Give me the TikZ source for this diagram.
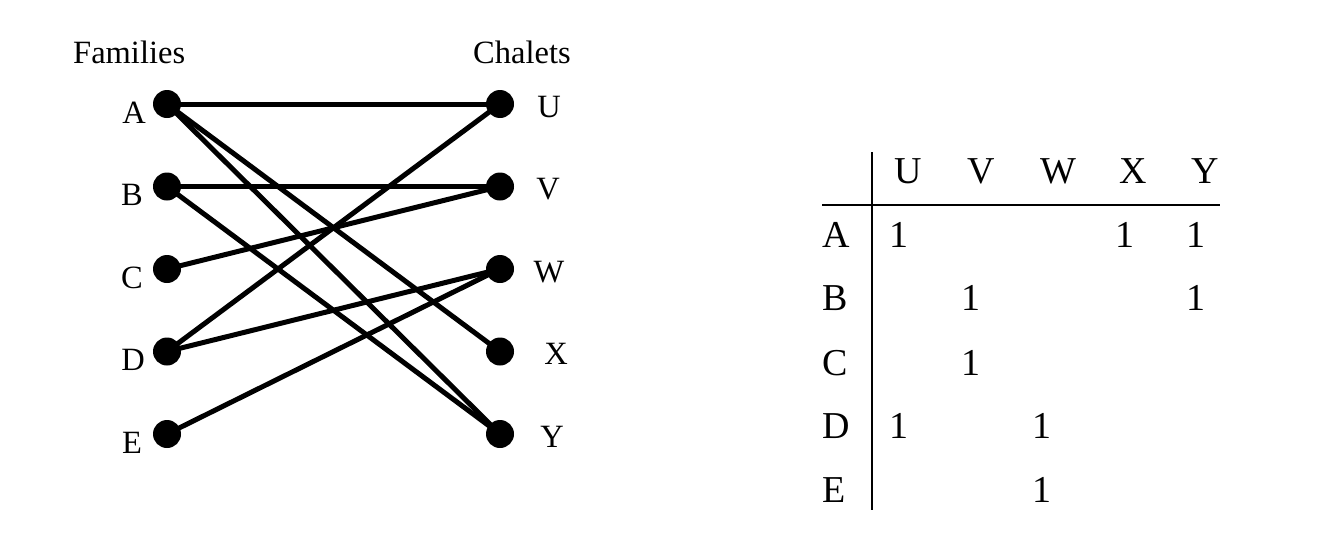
\documentclass[tikz,border=0pt]{standalone}
\usepackage{fontspec}
\setmainfont{Liberation Serif}
\begin{document}
\begin{tikzpicture}[x=1pt,y=-1pt,
  dot/.style={circle,fill=black,inner sep=0pt,minimum size=28pt},
  edge/.style={line width=5pt},
  glab/.style={inner sep=0pt,anchor=base,font=\fontsize{32.5}{38}\selectfont},
  tlab/.style={inner sep=0pt,anchor=base,font=\fontsize{38}{44}\selectfont},
  rule/.style={line width=2pt}]
\useasboundingbox (0,0) rectangle (1334,557);
% titles
\node[glab,anchor=base west] (fam) at (73,63) {Families};
\node[glab,anchor=base west] (cha) at (473,63) {Chalets};
% vertices
\foreach \n/\y in {A/104,B/186.5,C/269,D/351.5,E/434}{
  \coordinate (\n) at (167,\y);
}
\foreach \n/\y in {U/104,V/186.5,W/269,X/351.5,Y/434}{
  \coordinate (\n) at (500,\y);
}
% edges
\draw[edge] (A) -- (U);
\draw[edge] (A) -- (X);
\draw[edge] (A) -- (Y);
\draw[edge] (B) -- (V);
\draw[edge] (B) -- (Y);
\draw[edge] (C) -- (V);
\draw[edge] (D) -- (U);
\draw[edge] (D) -- (W);
\draw[edge] (E) -- (W);
% dots
\foreach \n in {A,B,C,D,E,U,V,W,X,Y}{
  \node[dot] (d\n) at (\n) {};
}
% labels
\node[glab] (lA) at (134,123) {A};
\node[glab] (lB) at (132,205.5) {B};
\node[glab] (lC) at (132,288) {C};
\node[glab] (lD) at (133,370.5) {D};
\node[glab] (lE) at (132,453) {E};
\node[glab] (lU) at (549,117) {U};
\node[glab] (lV) at (548,199.5) {V};
\node[glab] (lW) at (549,282) {W};
\node[glab] (lX) at (556,364.5) {X};
\node[glab] (lY) at (552,447) {Y};
% table
\coordinate (vt) at (872,152);
\coordinate (vb) at (872,510);
\coordinate (hl) at (822,205);
\coordinate (hr) at (1220,205);
\draw[rule] (vt) -- (vb);
\draw[rule] (hl) -- (hr);
\node[tlab] (hU) at (908,183) {U};
\node[tlab] (hV) at (981,183) {V};
\node[tlab] (hW) at (1058,183) {W};
\node[tlab] (hX) at (1133,183) {X};
\node[tlab] (hY) at (1205,183) {Y};
\node[tlab,anchor=base west] (rA) at (822,247) {A};
\node[tlab,anchor=base west] (rB) at (822,310) {B};
\node[tlab,anchor=base west] (rC) at (822,375) {C};
\node[tlab,anchor=base west] (rD) at (822,438) {D};
\node[tlab,anchor=base west] (rE) at (822,502) {E};
\node[tlab] (cAU) at (899,247) {1};
\node[tlab] (cAX) at (1125,247) {1};
\node[tlab] (cAY) at (1196,247) {1};
\node[tlab] (cBV) at (971,310) {1};
\node[tlab] (cBY) at (1196,310) {1};
\node[tlab] (cCV) at (971,375) {1};
\node[tlab] (cDU) at (899,438) {1};
\node[tlab] (cDW) at (1042,438) {1};
\node[tlab] (cEW) at (1042,502) {1};
\end{tikzpicture}
\end{document}
